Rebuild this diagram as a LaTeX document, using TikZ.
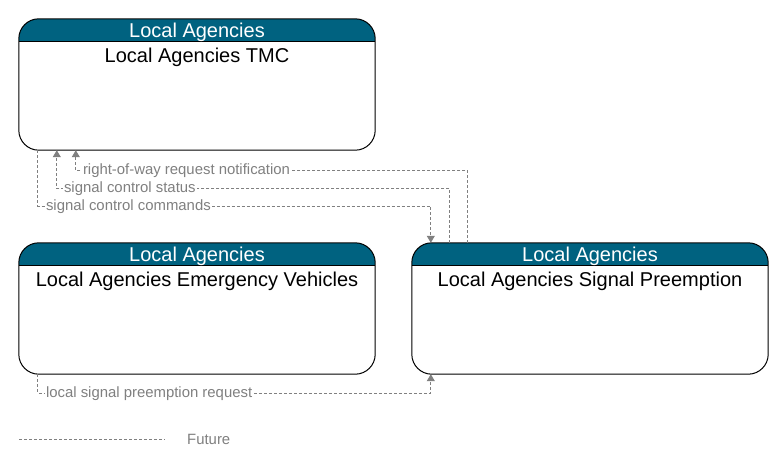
\documentclass[tikz,border=0pt]{standalone}
\usepackage{fontspec}
\setmainfont{Liberation Sans}
\usetikzlibrary{arrows.meta,positioning,calc}
\definecolor{hdrblue}{RGB}{0,98,128}
\definecolor{flowgray}{RGB}{128,128,128}
\tikzset{
	elem/.style={rounded corners=20pt, minimum width=356pt, minimum height=131pt, inner sep=0pt},
	elframe/.style={draw=black, line width=1pt, rounded corners=20pt},
	hdr/.style={text=white, font=\fontsize{20}{21}\selectfont, anchor=base, inner sep=0pt},
	elname/.style={text=black, font=\fontsize{20}{21}\selectfont, anchor=base, inner sep=0pt},
	flow/.style={draw=flowgray, line width=1pt, dash pattern=on 3pt off 2pt},
	flowarr/.style={flow, -{Triangle[width=8pt,length=7pt]}},
	flowlbl/.style={text=flowgray, fill=white, font=\fontsize{14.9}{15}\selectfont, anchor=west, inner sep=1pt},
}

\begin{document}
\begin{tikzpicture}[x=1pt, y=-1pt]
	\useasboundingbox (0,0) rectangle (783,468);

	\node[elem] (tmc) at (197,84.5) {};
	\node[elem] (ev) at (197,308.5) {};
	\node[elem] (sp) at (590,308.5) {};

	\foreach \n in {tmc,ev,sp} {
		\begin{scope}
			\clip[rounded corners=20pt] (\n.south west) rectangle (\n.north east);
			\fill[hdrblue] (\n.north west) rectangle ($(\n.north east)+(0,23)$);
		\end{scope}
		\draw[line width=1pt] ($(\n.north west)+(0,23)$) -- ($(\n.north east)+(0,23)$);
		\draw[elframe] (\n.south west) rectangle (\n.north east);
	}

	\node[hdr] (tmchdr) at ($(tmc.north)+(0,19)$) {Local Agencies};
	\node[elname] (tmcname) at ($(tmc.north)+(0,44)$) {Local Agencies TMC};

	% Emergency vehicles
	\node[hdr] (evhdr) at ($(ev.north)+(0,19)$) {Local Agencies};
	\node[elname] (evname) at ($(ev.north)+(0,44)$) {Local Agencies Emergency Vehicles};

	% Signal preemption
	\node[hdr] (sphdr) at ($(sp.north)+(0,19)$) {Local Agencies};
	\node[elname] (spname) at ($(sp.north)+(0,44)$) {Local Agencies Signal Preemption};

	% Flows
	\draw[flowarr] ($(sp.north west)+(56,0)$) |- ($(tmc.south west)+(57,20)$) -- ($(tmc.south west)+(57,0)$);
	\draw[flowarr] ($(sp.north west)+(38,0)$) |- ($(tmc.south west)+(38,38)$) -- ($(tmc.south west)+(38,0)$);
	\draw[flowarr] ($(tmc.south west)+(19,0)$) |- ($(sp.north west)+(19,-36.5)$) -- ($(sp.north west)+(19,0)$);
	\draw[flowarr] ($(ev.south west)+(19,0)$) |- ($(sp.south west)+(19,19)$) -- ($(sp.south west)+(19,0)$);

	\node[flowlbl] (rowlbl) at ($(tmc.south west)+(63,20)$) {right-of-way request notification};
	\node[flowlbl] (statlbl) at ($(tmc.south west)+(44,38)$) {signal control status};
	\node[flowlbl] (cmdlbl) at ($(tmc.south west)+(26,56.5)$) {signal control commands};
	\node[flowlbl] (reqlbl) at ($(ev.south west)+(26,19)$) {local signal preemption request};

	% Legend
	\coordinate (lgfrom) at (19,439);
	\coordinate (lgto) at (165,439);
	\draw[flow] (lgfrom) -- (lgto);
	\node[flowlbl] (lgtext) at (186,439) {Future};
\end{tikzpicture}
\end{document}
